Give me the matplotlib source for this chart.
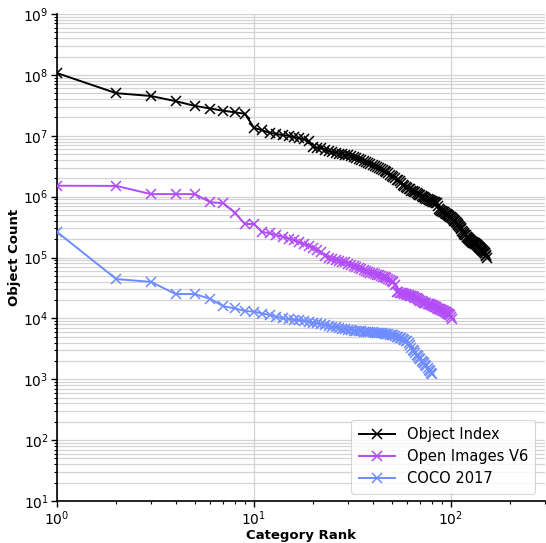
import numpy as np
import matplotlib
matplotlib.use("Agg")
import matplotlib.pyplot as plt
from matplotlib.ticker import LogLocator, NullFormatter

object_index = [
    1.07e8, 5.0e7, 4.5e7, 3.7e7, 3.1e7, 2.8e7, 2.57e7, 2.43e7, 2.29e7, 1.35e7,
    1.23e7, 1.12e7, 1.07e7, 1.02e7, 1.0e7, 9.5e6, 9.1e6, 8.7e6, 8.1e6, 6.6e6,
    6.3e6, 6.2e6, 5.9e6, 5.6e6, 5.4e6, 5.25e6, 5.1e6, 5.0e6, 4.9e6, 4.8e6,
    4.57e6, 4.47e6, 4.27e6, 4.17e6, 3.98e6, 3.89e6, 3.72e6, 3.63e6, 3.47e6, 3.31e6,
    3.16e6, 3.09e6, 2.95e6, 2.82e6, 2.69e6, 2.63e6, 2.51e6, 2.40e6, 2.29e6, 2.19e6,
    2.09e6, 2.0e6, 1.91e6, 1.86e6, 1.78e6, 1.70e6, 1.58e6, 1.51e6, 1.45e6, 1.41e6,
    1.35e6, 1.32e6, 1.26e6, 1.23e6, 1.20e6, 1.17e6, 1.15e6, 1.12e6, 1.07e6, 1.05e6,
    1.02e6, 1.0e6, 9.8e5, 9.55e5, 9.3e5, 9.1e5, 8.9e5, 8.7e5, 8.5e5, 8.4e5,
    8.3e5, 8.2e5, 8.1e5, 8.0e5, 7.9e5,
    6.9e5, 6.3e5, 6.0e5, 5.9e5, 5.75e5, 5.6e5, 5.5e5, 5.4e5, 5.25e5, 5.1e5,
    5.0e5, 4.9e5, 4.8e5, 4.7e5, 4.6e5, 4.4e5, 4.25e5, 4.15e5, 4.05e5, 4.0e5, 3.8e5, 3.7e5,
    3.55e5, 3.4e5, 3.25e5, 3.15e5, 3.0e5, 2.9e5, 2.75e5, 2.6e5, 2.5e5, 2.45e5, 2.35e5, 2.3e5, 2.2e5,
    2.15e5, 2.1e5, 2.05e5, 2.0e5, 1.95e5, 1.9e5, 1.86e5, 1.82e5, 1.78e5, 1.76e5,
    1.74e5, 1.70e5, 1.68e5, 1.66e5, 1.62e5,
    1.58e5, 1.55e5, 1.51e5, 1.48e5, 1.45e5, 1.41e5, 1.38e5, 1.35e5, 1.32e5, 1.29e5,
    1.26e5, 1.23e5, 1.20e5, 1.17e5, 1.10e5, 1.05e5, 9.8e4,
]

open_images_v6 = [
    1.51e6, 1.50e6, 1.10e6, 1.10e6, 1.10e6, 8.1e5, 7.8e5, 5.4e5, 3.55e5, 3.55e5,
    2.63e5, 2.51e5, 2.34e5, 2.19e5, 2.04e5, 1.91e5, 1.78e5, 1.66e5, 1.55e5, 1.45e5,
    1.32e5, 1.23e5, 1.07e5, 1.0e5, 9.5e4, 9.1e4, 8.8e4, 8.5e4, 8.3e4, 7.9e4,
    7.6e4, 7.3e4, 7.1e4, 6.8e4, 6.5e4, 6.2e4, 5.9e4, 5.75e4, 5.6e4, 5.5e4,
    5.4e4, 5.25e4, 5.1e4, 4.95e4, 4.85e4, 4.7e4, 4.6e4, 4.4e4, 4.25e4, 4.1e4,
    4.0e4, 3.55e4, 2.75e4, 2.7e4, 2.66e4, 2.63e4, 2.57e4, 2.51e4, 2.48e4, 2.45e4,
    2.4e4, 2.34e4, 2.32e4, 2.29e4, 2.24e4, 2.19e4, 2.16e4, 2.09e4, 2.04e4, 1.95e4,
    1.9e4, 1.86e4, 1.82e4, 1.8e4, 1.78e4, 1.74e4, 1.72e4, 1.70e4, 1.66e4, 1.64e4,
    1.62e4, 1.58e4, 1.55e4, 1.51e4, 1.48e4,
    1.45e4, 1.43e4, 1.41e4, 1.38e4, 1.35e4, 1.32e4, 1.30e4, 1.29e4, 1.26e4, 1.23e4,
    1.20e4, 1.17e4, 1.16e4, 1.14e4, 1.07e4, 9.8e3,
]

coco_2017 = [
    2.63e5, 4.42e4, 3.98e4, 2.51e4, 2.51e4, 2.09e4, 1.58e4, 1.46e4, 1.32e4, 1.29e4,
    1.20e4, 1.14e4, 1.07e4, 1.0e4, 9.8e3, 9.5e3, 9.3e3, 9.1e3, 8.8e3, 8.5e3,
    8.3e3, 8.0e3, 7.8e3, 7.5e3, 7.2e3, 7.1e3, 6.9e3, 6.8e3, 6.6e3, 6.5e3,
    6.4e3, 6.3e3, 6.2e3, 6.17e3, 6.1e3, 6.03e3, 6.03e3, 5.96e3, 5.9e3, 5.9e3,
    5.82e3, 5.75e3, 5.75e3, 5.69e3, 5.69e3, 5.62e3, 5.56e3, 5.5e3, 5.43e3, 5.37e3,
    5.25e3, 5.13e3, 5.0e3, 4.9e3, 4.79e3, 4.68e3, 4.57e3, 4.47e3, 4.32e3, 4.17e3,
    3.89e3, 3.63e3, 3.31e3, 3.02e3, 2.88e3, 2.69e3, 2.51e3, 2.4e3, 2.24e3, 2.14e3,
    2.0e3, 1.9e3, 1.82e3, 1.7e3, 1.62e3, 1.51e3, 1.41e3, 1.35e3, 1.29e3, 1.23e3,
]

series_names = ["Object Index", "Open Images V6", "COCO 2017"]
series_colors = ["#000000", "#b24df5", "#6f8cff"]

plt.rcParams["mathtext.fontset"] = "cm"
plt.rcParams["font.family"] = "DejaVu Sans"

fig = plt.figure(figsize=(5.46, 5.43), dpi=100)
ax = fig.add_axes([57 / 546, 1 - 501 / 543, 488 / 546, (501 - 14) / 543])

for vals, name, col in zip([object_index, open_images_v6, coco_2017], series_names, series_colors):
    ranks = np.arange(1, len(vals) + 1)
    ax.plot(ranks, vals, color=col, marker="x", markersize=6.5, linewidth=1.4,
            markeredgewidth=1.1, label=name, zorder=3)

ax.set_xscale("log")
ax.set_yscale("log")
ax.set_xlim(1, 300)
ax.set_ylim(10, 1e9)

ax.yaxis.set_major_locator(LogLocator(base=10, numticks=20))
ax.yaxis.set_minor_locator(LogLocator(base=10, subs=np.arange(2, 10), numticks=20))
ax.yaxis.set_minor_formatter(NullFormatter())

ax.grid(True, which="major", color="#d3d3d3", linewidth=0.9, zorder=0)
ax.yaxis.grid(True, which="minor", color="#d3d3d3", linewidth=0.9, zorder=0)
ax.set_axisbelow(True)

for s in ["top", "right"]:
    ax.spines[s].set_visible(False)
for s in ["left", "bottom"]:
    ax.spines[s].set_linewidth(1.2)

ax.tick_params(axis="both", which="major", direction="out", length=4, width=1,
               labelsize=10, pad=2)
ax.tick_params(axis="both", which="minor", direction="out", length=2.5, width=0.8)

ax.set_xlabel("Category Rank", fontsize=9.5, fontweight="bold", labelpad=1)
ax.set_ylabel("Object Count", fontsize=9.5, fontweight="bold", labelpad=2)

leg = ax.legend(loc="lower right", fontsize=10.5, frameon=True, fancybox=True,
                borderpad=0.5, handlelength=2.5, bbox_to_anchor=(0.995, 0.0))
leg.get_frame().set_edgecolor("#cccccc")
leg.get_frame().set_linewidth(0.8)

fig.savefig("out.png", dpi=100)
